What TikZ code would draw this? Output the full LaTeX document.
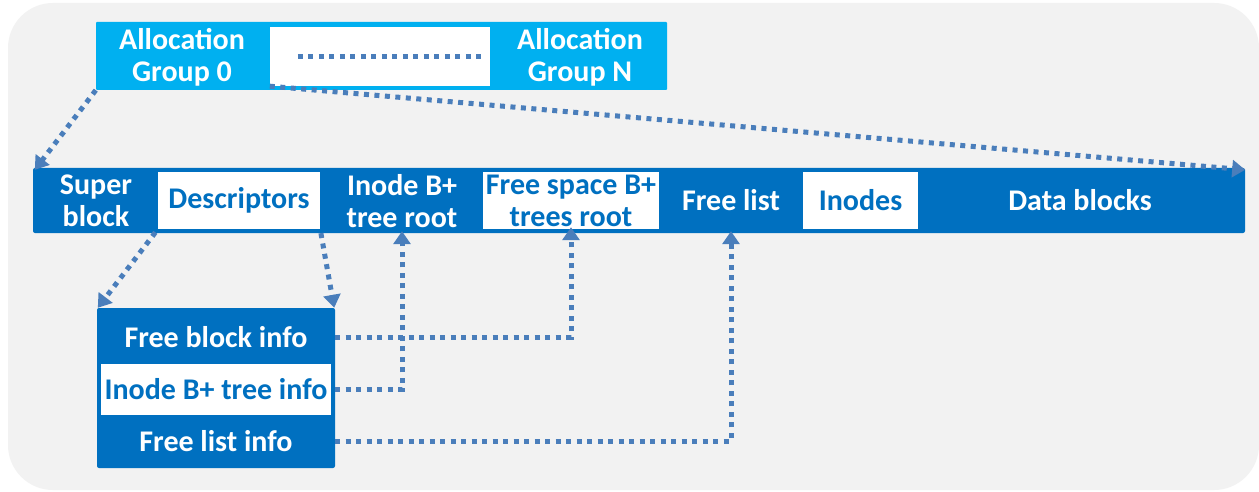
\documentclass[tikz,border=0pt]{standalone}
\usepackage{fontspec}
\setmainfont{Carlito}
\usetikzlibrary{arrows.meta}
\definecolor{bgpanel}{HTML}{F2F2F2}
\definecolor{agcyan}{HTML}{00B0F0}
\definecolor{fsblue}{HTML}{0070C0}
\definecolor{linkblue}{HTML}{4A7EBB}

\begin{document}
\begin{tikzpicture}[x=1pt,y=-1pt,
  txt/.style={font=\fontsize{30}{32}\selectfont\bfseries, align=center, inner sep=0pt},
  lbl/.style={txt, text=white},
  wbox/.style={txt, fill=white, text=fsblue},
  dots/.style={draw=linkblue, line width=5pt, dash pattern=on 5pt off 5.5pt},
  link/.style={dots, -{Triangle[width=17pt,length=13pt]}},
]
\useasboundingbox (0,0) rectangle (1259,492);
\fill[white] (0,0) rectangle (1259,492);
\fill[bgpanel, rounded corners=45pt] (8,3) rectangle (1259,490);

% allocation groups
\node[fill=agcyan, minimum width=571pt, minimum height=68pt, inner sep=0pt, rounded corners=1pt] (ag) at (381.5,56) {};
\node[fill=white, minimum width=220pt, minimum height=59pt, inner sep=0pt] (agmid) at (380,56.5) {};
\node[lbl] (ag0) at (182,57) {Allocation\\Group 0};
\node[lbl] (agn) at (580,57) {Allocation\\Group N};
\draw[dots] ([xshift=28pt]agmid.west) -- ([xshift=-8pt]agmid.east);

% on-disk layout of one group
\node[fill=fsblue, minimum width=1212pt, minimum height=65pt, inner sep=0pt, rounded corners=2pt] (bar) at (639,200.5) {};
\node[lbl] (super) at (96,201) {Super\\block};
\node[wbox, minimum width=162pt, minimum height=57pt] (desc) at (239,200.5) {Descriptors};
\node[lbl] (iroot) at (402,201) {Inode B+\\tree root};
\node[wbox, minimum width=176pt, minimum height=57pt] (fsroot) at (571,200.5) {Free space B+\\trees root};
\node[lbl] (flist) at (731,200) {Free list};
\node[wbox, minimum width=115pt, minimum height=57pt] (inodes) at (860.5,200.5) {Inodes};
\node[lbl] (data) at (1080,200) {Data blocks};

% descriptor contents
\node[fill=fsblue, minimum width=238pt, minimum height=160pt, inner sep=0pt, rounded corners=2pt] (info) at (216,388) {};
\node[lbl, minimum width=238pt] (fbi) at (216,337) {Free block info};
\node[wbox, minimum width=230pt, minimum height=51pt] (ibi) at (216,389.5) {Inode B+ tree info};
\node[lbl, minimum width=238pt] (fli) at (216,441) {Free list info};

% links
\draw[link] (ag.south west) -- ([xshift=2pt,yshift=-2pt]bar.north west);
\draw[link] (agmid.south west) -- ([yshift=-2pt]bar.north east);
\draw[link, shorten <=4pt] (desc.south west) -- ([xshift=1pt]info.north west);
\draw[link, shorten <=4pt] (desc.south east) -- ([xshift=-1pt]info.north east);
\draw[link] (fbi.east) -| ([yshift=2pt]fsroot.south);
\draw[link] (ibi.east -| info.east) -| ([yshift=2pt]iroot.center |- bar.south);
\draw[link] (fli.east) -| ([yshift=2pt]flist.center |- bar.south);
\end{tikzpicture}
\end{document}
